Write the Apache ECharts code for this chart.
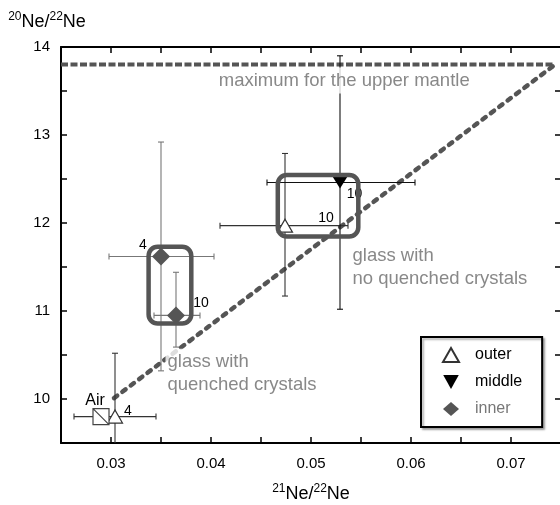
<!DOCTYPE html>
<html>
<head>
<meta charset="utf-8">
<script src="https://cdn.jsdelivr.net/npm/echarts@6/dist/echarts.min.js"></script>
<style>
  html, body { margin: 0; padding: 0; background: #fff; }
  #chart { width: 560px; height: 505px; }
</style>
</head>
<body>
<div id="chart"></div>
<script>
const FONT = '"Liberation Sans", Arial, Helvetica, sans-serif';

// 21Ne/22Ne (x) and 20Ne/22Ne (y) for each glass zone, with error ranges
const outerX = [0.0304, 0.0474];
const outerY = [9.80, 11.97];
const outerXErr = [[0.0263, 0.0345], [0.0409, 0.0537]];
const outerYErr = [[9.08, 10.52], [11.17, 12.79]];
const outerN = ['4', '10'];

const middleX = [0.0529];
const middleY = [12.46];
const middleXErr = [[0.0456, 0.0604]];
const middleYErr = [[11.02, 13.90]];
const middleN = ['10'];

const innerX = [0.0350, 0.0365];
const innerY = [11.62, 10.95];
const innerXErr = [[0.0298, 0.0403], [0.0343, 0.0389]];
const innerYErr = [[10.32, 12.92], [10.59, 11.44]];
const innerN = ['4', '10'];

const airPoint = [0.0290, 9.80];

// upper-mantle maximum and the air–mantle mixing line
const mantleMaxY = 13.8;
const mantleLineX = [0.025, 0.0744];
const mixingLine = [[0.0303, 10.01], [0.0744, 13.80]];

// grouped analyses, outlined: [x0, y0, x1, y1]
const quenchedBox = [0.03376, 10.858, 0.03803, 11.731];
const clearBox = [0.04668, 11.847, 0.05473, 12.545];

// axis ranges and tick steps
const xRange = { min: 0.025, max: 0.075, step: 0.005 };
const yRange = { min: 9.5, max: 14, step: 0.5 };

// text notes anchored in data space
const noteTexts = ['maximum for the upper mantle', 'glass with\nquenched crystals', 'glass with\nno quenched crystals'];
const noteAnchors = [[0.04053, 13.619], [0.0354, 10.288], [0.0541, 11.49]];

const chart = echarts.init(document.getElementById('chart'), null, { renderer: 'canvas' });

function errorBars(name, xs, ys, xErr, yErr, color) {
  return {
    type: 'custom',
    name: name,
    z: 2,
    silent: true,
    data: xs.map((x, i) => [x, ys[i], xErr[i][0], xErr[i][1], yErr[i][0], yErr[i][1]]),
    encode: { x: [0, 2, 3], y: [1, 4, 5] },
    renderItem: function (params, api) {
      const cap = 3;
      const lowRaw = api.value(4);
      const low = Math.max(lowRaw, yRange.min);
      const c = api.coord([api.value(0), api.value(1)]);
      const xl = api.coord([api.value(2), api.value(1)])[0];
      const xh = api.coord([api.value(3), api.value(1)])[0];
      const yl = api.coord([api.value(0), low])[1];
      const yh = api.coord([api.value(0), api.value(5)])[1];
      const style = { stroke: color, lineWidth: 1.1 };
      const kids = [
        { type: 'line', shape: { x1: xl, y1: c[1], x2: xh, y2: c[1] }, style: style },
        { type: 'line', shape: { x1: c[0], y1: yl, x2: c[0], y2: yh }, style: style },
        { type: 'line', shape: { x1: xl, y1: c[1] - cap, x2: xl, y2: c[1] + cap }, style: style },
        { type: 'line', shape: { x1: xh, y1: c[1] - cap, x2: xh, y2: c[1] + cap }, style: style },
        { type: 'line', shape: { x1: c[0] - cap, y1: yh, x2: c[0] + cap, y2: yh }, style: style }
      ];
      if (lowRaw >= yRange.min) {
        kids.push({ type: 'line', shape: { x1: c[0] - cap, y1: yl, x2: c[0] + cap, y2: yl }, style: style });
      }
      return { type: 'group', children: kids };
    }
  };
}

function points(xs, ys, counts, offsets) {
  return xs.map((x, i) => ({
    value: [x, ys[i]],
    label: { formatter: counts[i], offset: offsets[i] }
  }));
}

const countLabel = {
  show: true,
  position: 'inside',
  fontFamily: FONT,
  fontSize: 14,
  color: '#000'
};

const isMajorX = v => Math.abs(v * 100 - Math.round(v * 100)) < 1e-6;
const isMajorY = v => Math.abs(v - Math.round(v)) < 1e-6;

const tickStyle = { inside: true, length: 6, lineStyle: { color: '#000', width: 1.5 } };
const lineStyleAxis = { show: true, lineStyle: { color: '#000', width: 2 } };
const titleRich = {
  n: { fontFamily: FONT, fontSize: 18, color: '#000', lineHeight: 22 },
  s: { fontFamily: FONT, fontSize: 12, color: '#000', verticalAlign: 'top', lineHeight: 22, padding: [0, 0, 6, 0] }
};

const option = {
  animation: false,
  backgroundColor: '#fff',
  textStyle: { fontFamily: FONT },
  grid: { left: 61, top: 47, width: 500, height: 396, containLabel: false, outerBoundsMode: 'none' },
  xAxis: [{
    type: 'value',
    position: 'bottom',
    min: xRange.min, max: xRange.max, interval: xRange.step,
    axisLine: lineStyleAxis,
    axisTick: tickStyle,
    splitLine: { show: false },
    axisLabel: {
      fontFamily: FONT, fontSize: 15, color: '#000', margin: 13,
      formatter: v => isMajorX(v) ? (Math.round(v * 100) / 100).toFixed(2) : ''
    },
    name: '{s|21}{n|Ne/}{s|22}{n|Ne}',
    nameLocation: 'middle',
    nameGap: 40,
    nameTextStyle: { rich: titleRich }
  }, {
    type: 'value',
    position: 'top',
    min: xRange.min, max: xRange.max, interval: xRange.step,
    axisLine: lineStyleAxis,
    axisTick: tickStyle,
    splitLine: { show: false },
    axisLabel: { show: false }
  }],
  yAxis: [{
    type: 'value',
    position: 'left',
    min: yRange.min, max: yRange.max, interval: yRange.step,
    axisLine: lineStyleAxis,
    axisTick: tickStyle,
    splitLine: { show: false },
    axisLabel: {
      fontFamily: FONT, fontSize: 15, color: '#000', margin: 11,
      formatter: v => isMajorY(v) ? String(Math.round(v)) : ''
    },
    name: '{s|20}{n|Ne/}{s|22}{n|Ne}',
    nameLocation: 'end',
    nameGap: 14,
    nameTextStyle: { align: 'center', padding: [0, 28, 0, 0], rich: titleRich }
  }, {
    type: 'value',
    position: 'right',
    min: yRange.min, max: yRange.max, interval: yRange.step,
    axisLine: lineStyleAxis,
    axisTick: tickStyle,
    splitLine: { show: false },
    axisLabel: { show: false }
  }],
  legend: {
    orient: 'vertical',
    left: 421,
    top: 337,
    selectedMode: false,
    data: [
      { name: 'outer' },
      { name: 'middle' },
      { name: 'inner', textStyle: { color: '#777' } }
    ],
    itemWidth: 16,
    itemHeight: 14,
    itemGap: 11,
    padding: [10, 20, 10, 21],
    backgroundColor: '#fff',
    borderColor: '#000',
    borderWidth: 2,
    shadowColor: 'rgba(0,0,0,0.3)',
    shadowBlur: 2,
    shadowOffsetX: 2,
    shadowOffsetY: 2,
    textStyle: { fontFamily: FONT, fontSize: 16, color: '#000', padding: [0, 0, 0, 11] }
  },
  series: [
    {
      type: 'line',
      name: 'mantle max',
      silent: true,
      z: 1,
      showSymbol: false,
      symbol: 'none',
      data: mantleLineX.map(x => [x, mantleMaxY]),
      lineStyle: { color: '#555', width: 4, type: [7, 2.5] }
    },
    {
      type: 'line',
      name: 'mixing',
      silent: true,
      z: 1,
      showSymbol: false,
      symbol: 'none',
      data: mixingLine,
      lineStyle: { color: '#555', width: 4.5, type: [4, 6.5], cap: 'round' }
    },
    errorBars('outer err', outerX, outerY, outerXErr, outerYErr, '#333'),
    errorBars('middle err', middleX, middleY, middleXErr, middleYErr, '#111'),
    errorBars('inner err', innerX, innerY, innerXErr, innerYErr, '#777'),
    {
      type: 'scatter',
      name: 'outer',
      z: 3,
      symbol: 'triangle',
      symbolSize: [15, 13],
      itemStyle: { color: '#fff', borderColor: '#333', borderWidth: 1.2, opacity: 1 },
      label: countLabel,
      data: points(outerX, outerY, outerN, [[13, -5], [41, -7]])
    },
    {
      type: 'scatter',
      name: 'middle',
      z: 3,
      symbol: 'path://M0,0L10,0L5,9Z',
      symbolSize: [15, 12],
      itemStyle: { color: '#000', opacity: 1 },
      label: countLabel,
      data: points(middleX, middleY, middleN, [[14.5, 12]])
    },
    {
      type: 'scatter',
      name: 'inner',
      z: 3,
      symbol: 'diamond',
      symbolSize: [18, 18],
      itemStyle: { color: '#555', opacity: 1 },
      label: countLabel,
      data: points(innerX, innerY, innerN, [[-18, -11], [25, -12]])
    },
    {
      type: 'scatter',
      name: 'Air',
      z: 3,
      symbol: 'path://M0,0L10,0L10,10L0,10ZM0,0L10,10',
      symbolSize: 16,
      itemStyle: { color: '#fff', borderColor: '#444', borderWidth: 1.2, opacity: 1 },
      label: {
        show: true, formatter: 'Air', position: 'inside', offset: [-6, -16],
        fontFamily: FONT, fontSize: 16, color: '#000'
      },
      data: [airPoint]
    },
    {
      type: 'custom',
      name: 'groups',
      z: 5,
      silent: true,
      data: [quenchedBox, clearBox],
      encode: { x: [0, 2], y: [1, 3] },
      renderItem: function (params, api) {
        const p0 = api.coord([api.value(0), api.value(3)]);
        const p1 = api.coord([api.value(2), api.value(1)]);
        return {
          type: 'rect',
          shape: { x: p0[0], y: p0[1], width: p1[0] - p0[0], height: p1[1] - p0[1], r: 9 },
          style: { fill: 'none', stroke: '#555', lineWidth: 4.5 }
        };
      }
    },
    {
      type: 'scatter',
      name: 'notes',
      z: 6,
      silent: true,
      symbol: 'circle',
      symbolSize: 1,
      itemStyle: { color: 'rgba(255,255,255,0)' },
      data: noteAnchors.map((p, i) => ({
        value: p,
        label: [
          { padding: [0, 2, 3, 2], backgroundColor: '#fff' },
          { padding: [4, 2, 0, 2], backgroundColor: '#fff' },
          { padding: [0, 2, 0, 0] }
        ][i]
      })),
      label: {
        show: true,
        position: 'right',
        distance: 0,
        align: 'left',
        verticalAlign: 'middle',
        fontFamily: FONT,
        fontSize: 18.5,
        lineHeight: 23,
        color: '#6a6a6a',
        formatter: p => noteTexts[p.dataIndex]
      }
    }
  ]
};

chart.setOption(option);
</script>
</body>
</html>
